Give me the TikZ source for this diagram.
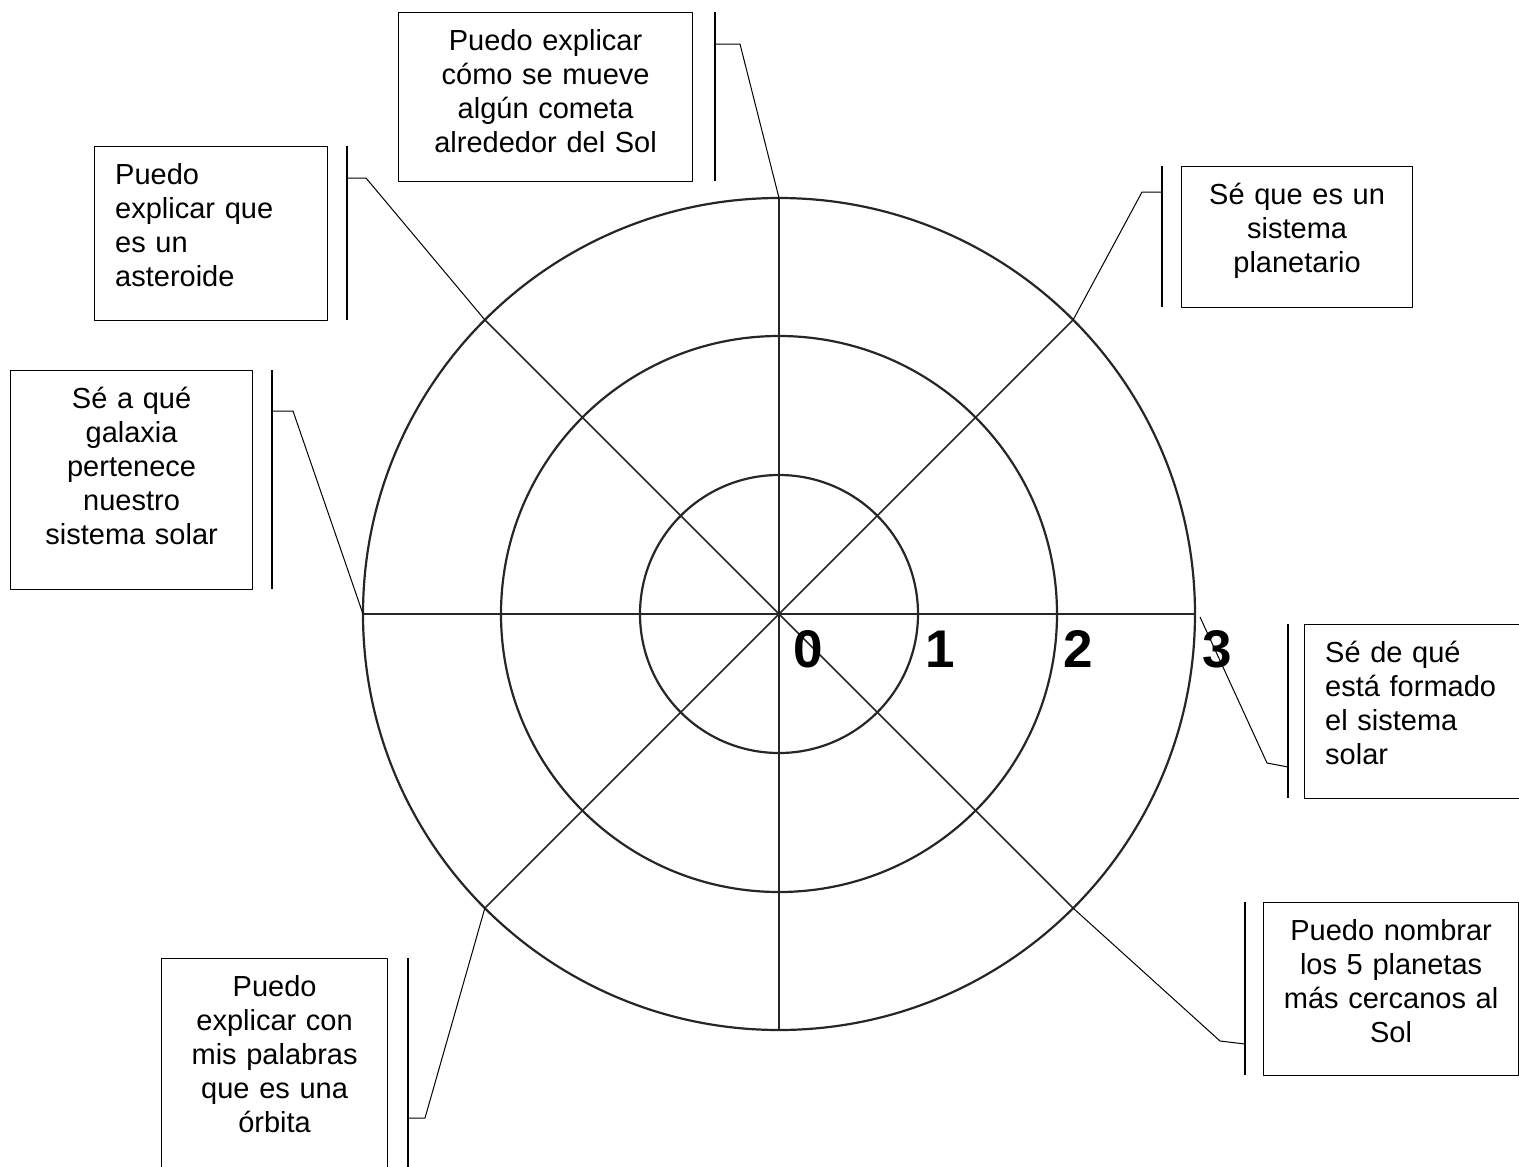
\documentclass[tikz,border=0pt]{standalone}
\usepackage{fontspec}
\setmainfont{Liberation Sans}
\begin{document}
\begin{tikzpicture}[x=1pt, y=-1pt, line join=round,
      every node/.append style={font=\fontsize{29}{34}\selectfont},
      ring/.style={line width=2.2pt, draw=black!85},
      spoke/.style={line width=1.6pt, draw=black!85},
      lead/.style={line width=1pt},
      bar/.style={line width=1.5pt},
      num/.style={font=\fontsize{53}{53}\selectfont\bfseries, inner sep=0pt}]
    \tikzstyle{card} = [draw, line width=1.2pt, inner sep=0pt, anchor=north west]
    \tikzstyle{words} = [inner sep=0pt, align=center, anchor=base]
    \tikzstyle{leftwords} = [inner sep=0pt, align=left, anchor=base west]
    \useasboundingbox (0,0) rectangle (1519,1167);
    \coordinate (O) at (779,614);
    \foreach \r in {139,278,416} \draw[ring] (O) circle (\r pt);
    \foreach \a in {0,45,...,315} \draw[spoke] (O) -- ++(\a:416pt) coordinate (s\a);
    \node[num] (zero) at (808,649) {0};
    \node[num] (one) at (940,649) {1};
    \node[num] (two) at (1078,649) {2};
    \node[num] (three) at (1217,649) {3};
    \node[card, minimum width=294pt, minimum height=169pt] (cometa) at (398,12) {};
    \node[words, text width=280pt] (cometa txt) at ([yshift=-38pt]cometa.north)
      {Puedo explicar\\cómo se mueve\\algún cometa\\alrededor del Sol};
    \draw[bar] (715,12) -- (715,181);
    \coordinate (cometa tie) at (715,44);
    \draw[lead] (s90) -- (740,44) -- (cometa tie);
    \node[card, minimum width=233pt, minimum height=174pt] (asteroide) at (94,146) {};
    \node[leftwords, text width=200pt] (asteroide txt) at ([xshift=21pt,yshift=-38pt]asteroide.north west)
      {Puedo\\explicar que\\es un\\asteroide};
    \draw[bar] (347,146) -- (347,320);
    \coordinate (asteroide tie) at (347,178);
    \draw[lead] (s135) -- (366,178) -- (asteroide tie);
    \node[card, minimum width=231pt, minimum height=141pt] (planetario) at (1181,166) {};
    \node[words, text width=220pt] (planetario txt) at ([yshift=-38pt]planetario.north)
      {Sé que es un\\sistema\\planetario};
    \draw[bar] (1162,166) -- (1162,307);
    \coordinate (planetario tie) at (1162,192);
    \draw[lead] (s45) -- (1142,192) -- (planetario tie);
    \node[card, minimum width=242pt, minimum height=219pt] (galaxia) at (10,370) {};
    \node[words, text width=230pt] (galaxia txt) at ([yshift=-38pt]galaxia.north)
      {Sé a qué\\galaxia\\pertenece\\nuestro\\sistema solar};
    \draw[bar] (272,370) -- (272,589);
    \coordinate (galaxia tie) at (272,411);
    \draw[lead] (s180) -- (293,411) -- (galaxia tie);
    \node[card, minimum width=240pt, minimum height=174pt] (formado) at (1304,624) {};
    \node[leftwords, text width=200pt] (formado txt) at ([xshift=21pt,yshift=-38pt]formado.north west)
      {Sé de qué\\está formado\\el sistema\\solar};
    \draw[bar] (1288,624) -- (1288,798);
    \coordinate (formado tie) at (1288,767);
    \draw[lead] ([shift={(5,3)}]s0) -- (1267,763) -- (formado tie);
    \node[card, minimum width=255pt, minimum height=173pt] (planetas) at (1263,902) {};
    \node[words, text width=245pt] (planetas txt) at ([yshift=-38pt]planetas.north)
      {Puedo nombrar\\los 5 planetas\\más cercanos al\\Sol};
    \draw[bar] (1245,902) -- (1245,1075);
    \coordinate (planetas tie) at (1245,1044);
    \draw[lead] (s315) -- (1220,1041) -- (planetas tie);
    \node[card, minimum width=226pt, minimum height=230pt] (orbita) at (161,958) {};
    \node[words, text width=215pt] (orbita txt) at ([yshift=-38pt]orbita.north)
      {Puedo\\explicar con\\mis palabras\\que es una\\órbita};
    \draw[bar] (408,958) -- (408,1180);
    \coordinate (orbita tie) at (408,1118);
    \draw[lead] (s225) -- (425,1118) -- (orbita tie);
\end{tikzpicture}
\end{document}
